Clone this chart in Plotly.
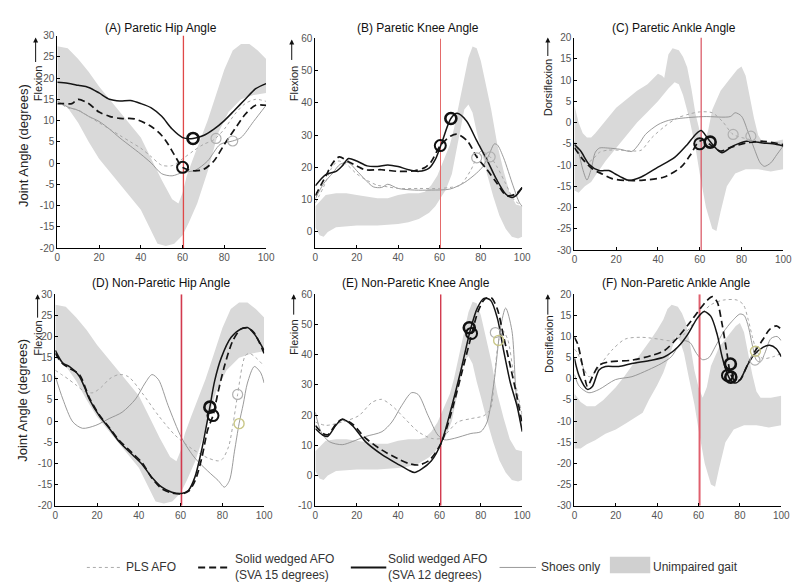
import plotly.graph_objects as go

W, H = 800, 587

# ---------------- normative bands (unimpaired gait) ----------------
HIP_UP_X = [0,5,10,15,20,25,30,35,40,45,50,55,58,60,62,65,68,72,76,80,84,88,92,96,100]
HIP_UP   = [27.5,27,24.5,21.5,18,15,12,9,6,1,-4,-8.5,-9.5,-7,-3,1,5,10,16,22,26.5,28,28,26.5,24.5]
HIP_LO_X = [0,5,10,15,20,25,30,35,40,44,48,52,56,60,63,67,72,77,82,88,94,100]
HIP_LO   = [15,13,9.5,5,1,-2,-5,-8,-11,-15,-19,-19.5,-19,-17,-14,-9.5,-2,7,12,15,16,16.5]

KNEE_UP_X = [0,3,5,10,15,20,25,30,35,40,45,50,53,56,59,62,65,67,69,72,74,76,78,80,82,85,88,91,94,97,100]
KNEE_UP   = [8,10,11.5,12,12,11.5,11,10.5,10.5,11.5,12,12,12.5,14.5,17.5,22,27,32,38,48,54,57.5,57,53,47,38,27,19,12,8.5,8]
KNEE_LO_X = [0,2,4,6,10,20,30,40,45,50,55,58,60,63,66,68,70,72,74,76,78,80,83,86,89,92,95,98,100]
KNEE_LO   = [1.5,-1,-1.5,0,1.5,2,2,2.5,3,4,6,8,10,13,18,24,31,38,39.5,37,31,26,18,11,5,1,-1.5,-2,-1.5]

ANK_C_UP_X = [0,2,4,6,8,10,15,20,25,30,35,38,40,42,43,45,47,50,52,54,56,58,60,62,64,66,70,74,78,80,82,84,86,88,90,95,100]
ANK_C_UP   = [4,0,-2.5,-3.5,-3.5,-2.5,0.5,3.5,5.5,7.5,9,10.5,11.5,11,10.5,16,17.5,17,15.5,13,8,2,-2,-4.5,-2,3,7.5,10,12.5,13.2,11,6,1,-3,-4.5,-4.5,-4]
ANK_C_LO_X = [0,2,5,8,10,15,20,25,30,35,40,45,48,50,52,55,58,60,63,66,68,70,73,77,82,88,94,100]
ANK_C_LO   = [-16,-16.5,-15,-14,-12.5,-9,-6,-3,0,2.5,5,8,9.5,9,6.5,1,-6,-12,-20,-25,-25.5,-21,-15,-12,-11,-11,-11.5,-11]

ANK_F_UP_X = [0,3,6,10,14,17,20,24,27,30,33,36.5,40,43,45,47,50,52,54,56,58,60,62,64,66,70,74,78,80,82,84,86,88,90,95,100]
ANK_F_UP   = [-3.5,-5.5,-6.5,-6.5,-5,-3.5,-2,0.5,2.5,4.5,6.5,9,11.5,14,16.5,17.5,17,15.5,13,8,2,-2,-4.5,-2,3,7.5,10,12.5,13.2,11,6,1,-3,-4.5,-4.5,-4]
ANK_F_LO_X = [0,3,6,10,15,20,25,30,33,36,40,43,45,47,49,51,53,55,58,60,63,66,68,70,73,77,82,88,94,100]
ANK_F_LO   = [-16.5,-16.5,-15.5,-14.5,-13,-12,-10.5,-9,-8,-5,-1.5,1.5,4,7,10,9,6,1,-6,-12,-20,-25,-25.5,-21,-15,-12,-11,-11,-11.5,-11]

# ---------------- (A) Paretic hip ----------------
A_S12_X = [0,5,10,15,20,25,30,35,40,45,50,55,60,65,70,75,80,85,90,95,100]
A_S12_Y = [19,18.8,18.3,17.8,16.5,15,14.6,14.7,14,13,11,8,6,5.8,6.5,8,10,12.5,15,17.5,18.7]
A_S15_X = [0,3,7,10,15,20,25,30,37,45,50,53,56,60,65,70,75,80,85,90,95,100]
A_S15_Y = [14,14,14,15,14,12,11,10.5,10.4,8.6,6.5,4.5,2,-1,-1.8,-1.5,0.5,4.4,8,11.5,13.6,13.6]
A_PLS_X = [0,5,10,15,20,25,30,35,40,45,50,55,60,65,70,75,80,85,90,95,100]
A_PLS_Y = [14.5,13,12.5,11,9.5,8,6.5,5,3.5,1.5,-0.5,-0.6,1,2.8,4.4,5.5,8,11.5,14,15,14.5]
A_SHOE_X = [0,5,10,15,20,25,30,35,40,45,50,55,60,66,72,78,84,88,94,100]
A_SHOE_Y = [14.7,13.2,12.4,11,9.8,8,5.9,4,2.1,0,-2.5,-3,-2.2,-1.7,0.5,4.4,5.2,6,9.8,13.6]
A_MK_X = [65,60,76,84]
A_MK_Y = [5.8,-1,5.8,5.2]
A_MK_K = ["s12","s15","grey","grey"]

# ---------------- (B) Paretic knee ----------------
B_S12_X = [0,5,10,13,16,20,25,30,35,40,45,50,55,58,61,65.5,68.5,73,78,83,87.6,92,95,97,100]
B_S12_Y = [14.3,17.8,18.8,20.5,22.8,22,20.5,20.3,20.8,20.3,19.3,18.8,19.8,22.5,27.5,35.2,36.8,34.5,28.3,22.3,16.3,11.8,10.7,11.3,13.8]
B_S15_X = [0,5,8.5,11.6,16,20,24,32,40,48,53,56,60.4,65.5,68.6,73.4,78,83,87.6,92.4,97,100]
B_S15_Y = [11.3,17.3,21.5,23.3,21.8,20.5,19.3,19.3,18.8,19,20,21.8,26.8,29.8,30.3,28.3,23.3,19.3,15.3,11.3,11.8,13.8]
B_PLS_X = [0,4,8,11,15,20,25,30,35,40,50,60,65,70,75,80,84.5,88,92,96,100]
B_PLS_Y = [9,14,20,22,21,18,16,14.5,14,13.5,13.5,13.5,13.8,14.5,19,25,23.3,20,15,10,8]
B_SHOE_X = [0,4,8.4,12,16,20,24,28,32,35,40,48,56,65,72,78,81,84,86.5,88,91,95.6,98.7,100]
B_SHOE_Y = [10.3,15,18.3,21,21.5,19,16.3,14,13.8,14.8,13.5,13,13,13.3,15.3,18.3,20.3,24,27.3,27,23,14.3,9,8]
B_MK_X = [65.5,60.4,78,84.5]
B_MK_Y = [35.2,26.8,23,23.3]
B_MK_K = ["s12","s15","grey","grey"]

# ---------------- (C) Paretic ankle ----------------
C_S12_X = [0,3,7,11.8,16.5,19.6,23,26,32,40,48,54,58,60.7,63.6,66.7,70.6,76,82.4,90.3,95,100]
C_S12_Y = [-5.2,-6.7,-9.8,-11.3,-11.3,-12.1,-13,-13.6,-12.8,-10.5,-8.2,-5.2,-2.8,-1.9,-3.6,-5.5,-7.1,-5.5,-4.4,-4.8,-5,-5.5]
C_S15_X = [0,3.9,8.6,13.3,18,24,32,43,51,55.7,59,62,65,70,74.6,82.4,90.3,100]
C_S15_Y = [-5.9,-8.6,-10.9,-12.1,-13.2,-13.6,-13.6,-12.8,-10.5,-7.5,-4.8,-4,-5.2,-6.7,-5.9,-4.8,-4.4,-5.2]
C_PLS_X = [0,3,6,9,12,16,22,28,32,37,43,49,55,60,66,71,76,84,90,100]
C_PLS_Y = [-5.5,-7.5,-9.5,-8.5,-7,-6.5,-6.5,-6.7,-6.5,-3.6,-1,1,2,2.5,2.3,0.2,-2.8,-4,-4.8,-4.8]
C_SHOE_X = [0,2,4,6,8,10,12,16,22,27.5,31,34,40,45,51,62,74.6,77,80,83,86,89,91,94,97,100]
C_SHOE_Y = [-4.5,-7,-11,-13.5,-11,-7,-6,-6,-6.3,-6.8,-5,-2.8,-0.5,0.5,1,1.4,1.4,2.3,1.5,-2,-6,-9.5,-10.3,-9.5,-7.5,-5.5]
C_MK_X = [65,60,76,84.5]
C_MK_Y = [-4.6,-5,-2.8,-3.2]
C_MK_K = ["s12","s15","grey","grey"]

# ---------------- (D) Non-paretic hip ----------------
D_S12_X = [0,3.6,6.8,9,11.5,14,16.3,21,25.8,30.5,36.8,41.5,46.3,51,55.8,60.5,63.7,66.8,70,72,74,76.3,79.5,84.2,89,92,95.3,100]
D_S12_Y = [16.7,13.7,12.9,12,10.6,8,5.2,1.3,-1.7,-4.8,-7.9,-10.2,-13.3,-15.6,-16.8,-17.1,-16.4,-13.3,-7,-2,3.3,9.5,15,19.8,21.8,22.1,20.6,16.7]
D_S15_X = [0,3.6,6.8,11.5,16.3,21,25.8,30.5,36.8,41.5,46.3,51,55.8,60.5,64,67,70,73,75.5,78,81,85,89,92,95,100]
D_S15_Y = [16,13.5,12.5,11,5.5,1.5,-1.5,-4.5,-7.5,-9.8,-13.5,-16,-17,-17.2,-16.5,-14,-9,-2,1.3,7,13,19,21.8,22,21,16]
D_PLS_X = [0,3,6,10,14,18,22,26,30.5,35,41.5,49.4,57.3,65,73,78,80,83,85,87.3,89.5,91,93,96,100]
D_PLS_Y = [12,11,10,8.5,7,6.7,8,10,11,10.5,6.7,1.3,-3.3,-6.4,-8.7,-9.4,-9,-6,-1,6.3,13,15.5,16,15,13]
D_SHOE_X = [0,3.6,8.4,13,19.4,25.8,32,38.4,43,46.3,49.4,54,60.5,66.8,73,77.9,81,83.4,85.8,88,90,92,95.3,98.4,100]
D_SHOE_Y = [10.6,5.2,-0.2,-1.7,-1,0.6,2.1,5.2,9,11,9.8,3.7,-4,-8.7,-11.8,-14,-15.6,-14,-7.1,-0.6,4,9,12.9,11.4,9]
D_MK_X = [74,75.5,87.3,88]
D_MK_Y = [3.3,1.3,6.3,-0.6]
D_MK_K = ["s12","s15","grey","yellow"]

# ---------------- (E) Non-paretic knee ----------------
E_S12_X = [0,3.5,5.9,9.9,13,17.8,24.2,32.2,40,45,48,51.3,56,60.8,65.6,70.4,75.2,78.3,81.5,84.7,88,91,94.3,97.5,100]
E_S12_Y = [15.5,13.4,12.9,16.6,18.6,16.6,11.2,6.9,3.7,1.8,1,2.1,4.8,10.7,22,34.9,48.9,55.4,58.6,58,52,41.4,30.6,23,14.5]
E_S15_X = [0,3.5,6,10,13,18,24,32,40,45,50,55,60.8,65.6,70.4,75.5,78.5,82,85,88,91,94.3,97.5,100]
E_S15_Y = [16.5,14,13.5,17,18.6,17,12.5,8.5,5.5,4,3.5,5,10.7,20.5,33,46.5,54,58.5,58.8,55,46,36,26,17]
E_PLS_X = [0,5,13,21,27.4,32,37,43.3,49.7,56,60.8,68.8,75.2,81.5,84.7,86.5,88.6,90.5,93,96,100]
E_PLS_Y = [17.7,16.6,17.7,19.8,24.2,25.2,23.1,18.8,14.5,12.3,12.3,17.7,18.8,19.8,22,32,44.7,48,45,33,20]
E_SHOE_X = [0,2.7,6.7,13,17.8,24.2,32.2,37,41.7,46.5,49.7,54.5,59.2,62.4,67.2,75.2,80,83,86.3,89.5,92,95,97.3,100]
E_SHOE_Y = [20.9,14.5,11.2,10.2,11.2,12.9,14.5,17.7,23.1,27.4,26.8,19.8,13.4,11.8,12.3,13.9,14.5,17.7,30.6,48.9,55.4,48,25,15]
E_MK_X = [74.4,75.5,87,88.6]
E_MK_Y = [48.9,47,47.3,44.7]
E_MK_K = ["s12","s15","grey","yellow"]

# ---------------- (F) Non-paretic ankle ----------------
F_S12_X = [0,2.4,6.3,8.7,11.9,15,21.4,27.8,37.3,43.6,50,54.8,59.5,62.7,65.9,69,71.4,73.8,75.4,77.8,80.2,83.3,86.5,91.3,94.4,97.6,100]
F_S12_Y = [4.8,0.5,-2.5,-1.8,2.1,2.9,2.9,3.6,4.4,5.2,7.5,10.5,14.4,15.9,14.8,10.5,5.2,1.3,-0.2,-1,-0.2,2.9,5.5,7.5,7.9,7.1,5.2]
F_S15_X = [0,1.6,4,6.3,8.7,11.9,16.7,27.8,37.3,43.6,50,56.3,61,64.3,66.7,69,71.4,73.8,75.4,77.8,80.2,83.3,86.5,91.3,94.4,97.6,100]
F_S15_Y = [9.8,8.2,2.9,-1.8,0.5,3.2,4,4.4,5.5,6.7,9.8,13.6,16.7,18.6,19.4,18.2,12.9,5.9,1.3,-0.6,-0.2,2.9,5.9,9.4,11.7,12.5,11.7]
F_PLS_X = [0,1.6,4,7,10,12,18,24.6,32.5,40.5,46.8,53,59.5,66,72,78.6,81.7,84,86,88,91,96,100]
F_PLS_Y = [7,6,3,0.5,1.5,2.9,6.7,9.4,9.8,9.4,9,10.5,14.4,17.5,18.6,18.6,17.5,14,10,6.7,4.8,5.2,6]
F_SHOE_X = [0,2.4,7,12,19.8,27.8,35.7,42,46.8,50,53,56,59,62,65,68,72,76,80,82,84,86,88,90,92,95,98,100]
F_SHOE_Y = [1,-1.8,-3.3,-2.5,-0.2,0.5,2.1,3.6,5.2,7.5,9,8.5,6,4.5,5,7.5,11,13.5,15.3,15,12.5,8,4.4,4,6,9.5,10,9]
F_MK_X = [75.4,74.0,75.6,87.3,87.5]
F_MK_Y = [3.5,0.8,0.4,4.4,6.5]
F_MK_K = ["s12","s15","s12","grey","yellow"]

TOE_OFF = [60.4, 60.5, 60.7, 60.4, 60.6, 60.5]
TITLES = ["(A) Paretic Hip Angle", "(B) Paretic Knee Angle", "(C) Paretic Ankle Angle",
          "(D) Non-Paretic Hip Angle", "(E) Non-Paretic Knee Angle", "(F) Non-Paretic Ankle Angle"]
X_TICKS = [0, 20, 40, 60, 80, 100]

# ---------------- layout helpers ----------------
FONT = "Liberation Sans, Arial, sans-serif"
def fx(px): return px / W
def fy(py): return 1 - py / H

panels = [
    dict(box=(47, 259, 22, 239), yr=[-20, 30], yt=list(range(-20, 31, 5)),
         band=(HIP_UP_X, HIP_UP, HIP_LO_X, HIP_LO),
         s12=(A_S12_X, A_S12_Y), s15=(A_S15_X, A_S15_Y), pls=(A_PLS_X, A_PLS_Y), shoe=(A_SHOE_X, A_SHOE_Y),
         mk=(A_MK_X, A_MK_Y, A_MK_K), red="#e04848", redw=1.3,
         title=(152, 14), lab="Flexion", lab_c=(27, 71), arr=(25, 24, 50), big=(12, 134)),
    dict(box=(309, 519, 25, 239), yr=[-5, 60], yt=list(range(0, 61, 10)),
         band=(KNEE_UP_X, KNEE_UP, KNEE_LO_X, KNEE_LO),
         s12=(B_S12_X, B_S12_Y), s15=(B_S15_X, B_S15_Y), pls=(B_PLS_X, B_PLS_Y), shoe=(B_SHOE_X, B_SHOE_Y),
         mk=(B_MK_X, B_MK_Y, B_MK_K), red="#e46a6a", redw=1,
         title=(413, 14), lab="Flexion", lab_c=(287, 71), arr=(285, 26, 48), big=None),
    dict(box=(572, 784, 24, 241), yr=[-30, 20], yt=list(range(-30, 21, 5)),
         band=(ANK_C_UP_X, ANK_C_UP, ANK_C_LO_X, ANK_C_LO),
         s12=(C_S12_X, C_S12_Y), s15=(C_S15_X, C_S15_Y), pls=(C_PLS_X, C_PLS_Y), shoe=(C_SHOE_X, C_SHOE_Y),
         mk=(C_MK_X, C_MK_Y, C_MK_K), red="#d8505e", redw=1.2,
         title=(673, 14), lab="Dorsiflexion", lab_c=(546, 75), arr=(545, 24, 44), big=None),
    dict(box=(45, 257, 286, 502), yr=[-20, 30], yt=list(range(-20, 31, 5)),
         band=(HIP_UP_X, HIP_UP, HIP_LO_X, HIP_LO),
         s12=(D_S12_X, D_S12_Y), s15=(D_S15_X, D_S15_Y), pls=(D_PLS_X, D_PLS_Y), shoe=(D_SHOE_X, D_SHOE_Y),
         mk=(D_MK_X, D_MK_Y, D_MK_K), red="#d23a4e", redw=1.6,
         title=(152, 275), lab="Flexion", lab_c=(28, 331), arr=(27, 286, 311), big=(12, 394)),
    dict(box=(309, 519, 286, 502), yr=[-10, 60], yt=list(range(-10, 61, 10)),
         band=(KNEE_UP_X, KNEE_UP, KNEE_LO_X, KNEE_LO),
         s12=(E_S12_X, E_S12_Y), s15=(E_S15_X, E_S15_Y), pls=(E_PLS_X, E_PLS_Y), shoe=(E_SHOE_X, E_SHOE_Y),
         mk=(E_MK_X, E_MK_Y, E_MK_K), red="#d23a4e", redw=1.4,
         title=(411, 275), lab="Flexion", lab_c=(288, 330), arr=(287, 286, 308), big=None),
    dict(box=(572, 782, 286, 502), yr=[-30, 20], yt=list(range(-30, 21, 5)),
         band=(ANK_F_UP_X, ANK_F_UP, ANK_F_LO_X, ANK_F_LO),
         s12=(F_S12_X, F_S12_Y), s15=(F_S15_X, F_S15_Y), pls=(F_PLS_X, F_PLS_Y), shoe=(F_SHOE_X, F_SHOE_Y),
         mk=(F_MK_X, F_MK_Y, F_MK_K), red="#e0606e", redw=2,
         title=(675, 275), lab="Dorsiflexion", lab_c=(546, 337), arr=(545, 286, 308), big=None),
]

BAND_COLOR = "#d9d9d9"
MK_STYLE = {
    "s12": dict(color="#111111", width=2.6, size=11),
    "s15": dict(color="#111111", width=2.0, size=11),
    "grey": dict(color="#b0b0b0", width=1.2, size=10),
    "yellow": dict(color="#c9c787", width=1.4, size=10),
}

fig = go.Figure()
layout = dict(width=W, height=H, margin=dict(l=0, r=0, t=0, b=0),
              paper_bgcolor="white", plot_bgcolor="rgba(0,0,0,0)", showlegend=False)
annotations = []
shapes = []

for i, p in enumerate(panels, start=1):
    xa = "x" if i == 1 else f"x{i}"
    ya = "y" if i == 1 else f"y{i}"
    x0, x1, y0, y1 = p["box"]
    layout["xaxis" if i == 1 else f"xaxis{i}"] = dict(
        domain=[fx(x0), fx(x1)], range=[0, 100], anchor=ya,
        tickvals=X_TICKS, ticktext=[str(v) for v in X_TICKS],
        ticks="inside", ticklen=3, tickcolor="#000", showgrid=False, zeroline=False,
        showline=True, linecolor="#000", linewidth=1,
        tickfont=dict(family=FONT, size=10, color="#555"))
    layout["yaxis" if i == 1 else f"yaxis{i}"] = dict(
        domain=[fy(y1), fy(y0)], range=p["yr"], anchor=xa,
        tickvals=p["yt"], ticktext=[str(v) for v in p["yt"]],
        ticks="inside", ticklen=3, tickcolor="#000", showgrid=False, zeroline=False,
        showline=True, linecolor="#000", linewidth=1,
        tickfont=dict(family=FONT, size=10, color="#555"))

    ux, uy, lx, ly = p["band"]
    fig.add_trace(go.Scatter(x=list(ux) + list(lx)[::-1], y=list(uy) + list(ly)[::-1],
                             fill="toself", fillcolor=BAND_COLOR, mode="lines",
                             line=dict(width=0, color=BAND_COLOR), xaxis=xa, yaxis=ya,
                             hoverinfo="skip"))
    sx, sy = p["shoe"]
    fig.add_trace(go.Scatter(x=sx, y=sy, mode="lines", xaxis=xa, yaxis=ya,
                             line=dict(color="#8f8f8f", width=0.9, shape="spline", smoothing=0.8)))
    dx, dy = p["pls"]
    fig.add_trace(go.Scatter(x=dx, y=dy, mode="lines", xaxis=xa, yaxis=ya,
                             line=dict(color="#a8a8a8", width=1, dash="dot", shape="spline", smoothing=0.8)))
    fig.add_trace(go.Scatter(x=[TOE_OFF[i - 1], TOE_OFF[i - 1]], y=p["yr"], mode="lines",
                             line=dict(color=p["red"], width=p["redw"]), xaxis=xa, yaxis=ya))
    kx, ky = p["s15"]
    fig.add_trace(go.Scatter(x=kx, y=ky, mode="lines", xaxis=xa, yaxis=ya,
                             line=dict(color="#151515", width=1.7, dash="7px,4px", shape="spline", smoothing=0.8)))
    bx, by = p["s12"]
    fig.add_trace(go.Scatter(x=bx, y=by, mode="lines", xaxis=xa, yaxis=ya,
                             line=dict(color="#151515", width=1.5, shape="spline", smoothing=0.8)))
    mx, my, mk = p["mk"]
    for kind in ["grey", "yellow", "s15", "s12"]:
        pts = [(a, b) for a, b, k in zip(mx, my, mk) if k == kind]
        if not pts:
            continue
        st = MK_STYLE[kind]
        fig.add_trace(go.Scatter(x=[a for a, _ in pts], y=[b for _, b in pts], mode="markers",
                                 xaxis=xa, yaxis=ya,
                                 marker=dict(symbol="circle-open", size=st["size"], color=st["color"],
                                             line=dict(color=st["color"], width=st["width"]))))

    tx, ty = p["title"]
    annotations.append(dict(x=fx(tx), y=fy(ty), xref="paper", yref="paper", text=TITLES[i - 1],
                            showarrow=False, xanchor="center", yanchor="middle",
                            font=dict(family=FONT, size=12, color="#111")))
    lcx, lcy = p["lab_c"]
    annotations.append(dict(x=fx(lcx), y=fy(lcy), xref="paper", yref="paper", text=p["lab"],
                            showarrow=False, textangle=-90, xanchor="center", yanchor="middle",
                            font=dict(family=FONT, size=11, color="#222")))
    ax_, tip, tail = p["arr"]
    annotations.append(dict(x=fx(ax_), y=fy(tip), xref="paper", yref="paper", text="",
                            showarrow=True, ax=0, ay=tail - tip, arrowhead=2, arrowsize=1,
                            arrowwidth=1, arrowcolor="#111"))
    if p["big"]:
        bxp, byp = p["big"]
        annotations.append(dict(x=fx(bxp), y=fy(byp), xref="paper", yref="paper",
                                text="Joint Angle (degrees)", showarrow=False, textangle=-90,
                                xanchor="center", yanchor="middle",
                                font=dict(family=FONT, size=13, color="#222")))

# ---------------- legend (decoration) ----------------
LEG_Y = 565
def leg_line(x0, x1, color, width, dash):
    shapes.append(dict(type="line", xref="paper", yref="paper", x0=fx(x0), x1=fx(x1),
                       y0=fy(LEG_Y), y1=fy(LEG_Y), line=dict(color=color, width=width, dash=dash)))
def leg_text(x, txt):
    annotations.append(dict(x=fx(x), y=fy(LEG_Y), xref="paper", yref="paper", text=txt,
                            showarrow=False, xanchor="left", yanchor="middle", align="left",
                            font=dict(family=FONT, size=12, color="#333")))

leg_line(77, 112, "#aaaaaa", 1, "dot")
leg_text(115, "PLS AFO")
leg_line(190, 221, "#151515", 2, "7px,4px")
leg_text(225, "Solid wedged AFO<br>(SVA 15 degrees)")
leg_line(345, 381, "#151515", 2, "solid")
leg_text(381, "Solid wedged AFO<br>(SVA 12 degrees)")
leg_line(496, 533, "#999999", 1, "solid")
leg_text(536, "Shoes only")
shapes.append(dict(type="rect", xref="paper", yref="paper", x0=fx(608), x1=fx(649),
                   y0=fy(571), y1=fy(554), fillcolor="#d0d0d0", line=dict(width=0)))
leg_text(650, "Unimpaired gait")

layout["annotations"] = annotations
layout["shapes"] = shapes
fig.update_layout(**layout)
fig.write_html("out.html")
